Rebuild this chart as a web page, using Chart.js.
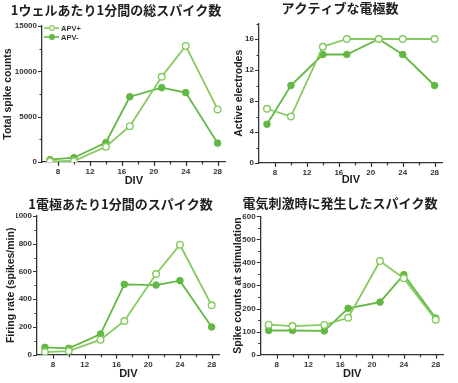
<!DOCTYPE html>
<html>
<head>
<meta charset="utf-8">
<script src="https://cdn.jsdelivr.net/npm/chart.js@4.4.1/dist/chart.umd.min.js"></script>
<style>
  html, body { margin: 0; padding: 0; background: #fff; overflow: hidden; }
  #wrap { position: relative; width: 458px; height: 383px; }
  #wrap canvas { position: absolute; }
</style>
</head>
<body>
<div id="wrap">
  <canvas id="cTotal" width="231" height="192" style="left:0;top:0"></canvas>
  <canvas id="cActive" width="219" height="192" style="left:229px;top:0"></canvas>
  <canvas id="cRate" width="225" height="192" style="left:0;top:192px"></canvas>
  <canvas id="cStim" width="220" height="192" style="left:229px;top:192px"></canvas>
</div>
<script>
// Culture day (DIV) of each recording and the labelled x ticks
const divDays = [7, 10, 14, 17, 21, 24, 28];
const divTicks = [8, 12, 16, 20, 24, 28];

// Total spikes per well per minute
const totalPlus = [70, 110, 1680, 3950, 9400, 12800, 5800];
const totalMinus = [260, 470, 2150, 7200, 8200, 7650, 2080];
const totalTicks = [0, 5000, 10000, 15000];

// Number of active electrodes
const activePlus = [7, 6, 15, 16, 16, 16, 16];
const activeMinus = [5, 10, 14, 14, 16, 14, 10];
const activeTicks = [0, 4, 8, 12, 16];

// Firing rate per electrode (spikes/min)
const ratePlus = [19, 26, 108, 243, 582, 793, 356];
const rateMinus = [53, 46, 149, 507, 502, 534, 200];
const rateTicks = [0, 200, 400, 600, 800, 1000];

// Spikes evoked by stimulation
const stimPlus = [130, 124, 129, 160, 406, 331, 152];
const stimMinus = [105, 105, 103, 201, 228, 347, 159];
const stimTicks = [0, 100, 200, 300, 400, 500, 600];

const seriesNames = ['APV+', 'APV-'];

const AXIS = '#333333';
const GREEN_OPEN = '#84ca5e';
const GREEN_FILL = '#63b843';
const LATIN = "'Liberation Sans', Arial, sans-serif";
const CJK = "'Noto Sans CJK JP', sans-serif";

// outward tick marks: long on labelled values, short in between
const tickMarks = {
  id: 'tickMarks',
  afterDraw(chart) {
    const { ctx, chartArea: a } = chart;
    const xs = chart.scales.x, ys = chart.scales.y;
    ctx.save();
    ctx.strokeStyle = AXIS;
    ctx.lineWidth = 1.2;
    ctx.beginPath();
    xs.ticks.forEach(t => {
      if (t.value <= xs.min) return;
      const px = Math.round(xs.getPixelForValue(t.value)) + 0.5;
      const len = divTicks.includes(t.value) ? 4 : 2.5;
      ctx.moveTo(px, a.bottom);
      ctx.lineTo(px, a.bottom + len);
    });
    const major = chart.options.plugins.tickMarks.major;
    ys.ticks.forEach(t => {
      const py = Math.round(ys.getPixelForValue(t.value)) + 0.5;
      const len = major.includes(t.value) ? 4 : 2.5;
      ctx.moveTo(a.left, py);
      ctx.lineTo(a.left - len, py);
    });
    ctx.stroke();
    ctx.restore();
  }
};

// small key in the top-left corner of the first panel
const keyPlugin = {
  id: 'seriesKey',
  afterDraw(chart) {
    const { ctx, chartArea: a } = chart;
    const rows = [a.top + 2, a.top + 11];
    ctx.save();
    chart.data.datasets.forEach((ds, i) => {
      const y = rows[i];
      ctx.strokeStyle = ds.borderColor;
      ctx.lineWidth = 1.6;
      ctx.beginPath();
      ctx.moveTo(a.left + 2, y);
      ctx.lineTo(a.left + 17, y);
      ctx.stroke();
      ctx.beginPath();
      ctx.arc(a.left + 10, y, 2.4, 0, Math.PI * 2);
      ctx.fillStyle = ds.pointBackgroundColor;
      ctx.fill();
      ctx.lineWidth = 1.1;
      ctx.stroke();
      ctx.fillStyle = AXIS;
      ctx.font = 'bold 7.5px ' + LATIN;
      ctx.textBaseline = 'middle';
      ctx.fillText(ds.label, a.left + 19, y + 0.5);
    });
    ctx.restore();
  }
};

function makePanel(id, p) {
  const pts = vals => divDays.map((d, i) => ({ x: d, y: vals[i] }));
  return new Chart(document.getElementById(id), {
    type: 'line',
    data: {
      datasets: [
        {
          label: seriesNames[0],
          data: pts(p.plus),
          borderColor: GREEN_OPEN,
          borderWidth: 1.8,
          pointBackgroundColor: '#ffffff',
          pointBorderColor: GREEN_OPEN,
          pointBorderWidth: 1.4,
          pointRadius: 3.3
        },
        {
          label: seriesNames[1],
          data: pts(p.minus),
          borderColor: GREEN_FILL,
          borderWidth: 1.8,
          pointBackgroundColor: GREEN_FILL,
          pointBorderColor: GREEN_FILL,
          pointBorderWidth: 1,
          pointRadius: 3.3
        }
      ]
    },
    options: {
      responsive: false,
      animation: false,
      devicePixelRatio: 1,
      layout: { padding: { left: p.padLeft, right: 0, top: 0, bottom: 0 } },
      plugins: {
        legend: { display: false },
        tooltip: { enabled: false },
        title: {
          display: true,
          text: p.title,
          color: '#1e1e1e',
          font: { family: CJK, size: 13, weight: 'bold', lineHeight: 1.2 },
          padding: { top: p.titleTop, bottom: p.titleBottom }
        },
        tickMarks: { major: p.yMajor }
      },
      scales: {
        x: {
          type: 'linear',
          min: 6,
          max: 29,
          grid: { display: false, drawTicks: false, tickLength: 0 },
          border: { display: true, color: AXIS, width: 1.3 },
          ticks: {
            stepSize: 2,
            includeBounds: false,
            autoSkip: false,
            maxRotation: 0,
            padding: 5,
            color: AXIS,
            font: { family: LATIN, size: 8, weight: 'bold' },
            callback: v => divTicks.includes(v) ? String(v) : ''
          },
          title: {
            display: true,
            text: 'DIV',
            color: '#1e1e1e',
            font: { family: LATIN, size: 11, weight: 'bold', lineHeight: 1.2 },
            padding: { top: 0, bottom: p.xTitlePad }
          },
          afterFit: s => { s.height = p.xHeight; }
        },
        y: {
          min: 0,
          max: p.yMax,
          grid: { display: false, drawTicks: false, tickLength: 0 },
          border: { display: true, color: AXIS, width: 1.3 },
          ticks: {
            stepSize: p.yStep,
            autoSkip: false,
            padding: 5,
            color: AXIS,
            font: { family: LATIN, size: 8, weight: 'bold' },
            callback: v => p.yMajor.includes(v) ? String(v) : ''
          },
          title: {
            display: true,
            text: p.yTitle,
            color: '#1e1e1e',
            font: { family: LATIN, size: 10.5, weight: 'bold', lineHeight: 1.2 },
            padding: { top: p.yTitlePad, bottom: 0 }
          },
          afterFit: s => { s.width = p.yWidth; }
        }
      }
    },
    plugins: p.key ? [tickMarks, keyPlugin] : [tickMarks]
  });
}

makePanel('cTotal', {
  title: '1ウェルあたり1分間の総スパイク数',
  yTitle: 'Total spike counts',
  plus: totalPlus, minus: totalMinus,
  yMax: 15000, yStep: 2500, yMajor: totalTicks,
  padLeft: 1, yWidth: 41, yTitlePad: 0.7,
  titleTop: 2.2, titleBottom: 8.2,
  xHeight: 30, xTitlePad: 4.4,
  key: true
});

makePanel('cActive', {
  title: 'アクティブな電極数',
  yTitle: 'Active electrodes',
  plus: activePlus, minus: activeMinus,
  yMax: 18, yStep: 2, yMajor: activeTicks,
  padLeft: 3, yWidth: 27, yTitlePad: 0.7,
  titleTop: 0.5, titleBottom: 7.4,
  xHeight: 29, xTitlePad: 5.4
});

makePanel('cRate', {
  title: '1電極あたり1分間のスパイク数',
  yTitle: 'Firing rate (spikes/min)',
  plus: ratePlus, minus: rateMinus,
  yMax: 1000, yStep: 100, yMajor: rateTicks,
  padLeft: 16, yWidth: 21, yTitlePad: -11.6,
  titleTop: 3.9, titleBottom: 4.5,
  xHeight: 29.3, xTitlePad: 3.7
});

makePanel('cStim', {
  title: '電気刺激時に発生したスパイク数',
  yTitle: 'Spike counts at stimulation',
  plus: stimPlus, minus: stimMinus,
  yMax: 600, yStep: 50, yMajor: stimTicks,
  padLeft: 2, yWidth: 29.7, yTitlePad: 1.0,
  titleTop: 3.2, titleBottom: 5.5,
  xHeight: 29.3, xTitlePad: 3.7
});
</script>
</body>
</html>
